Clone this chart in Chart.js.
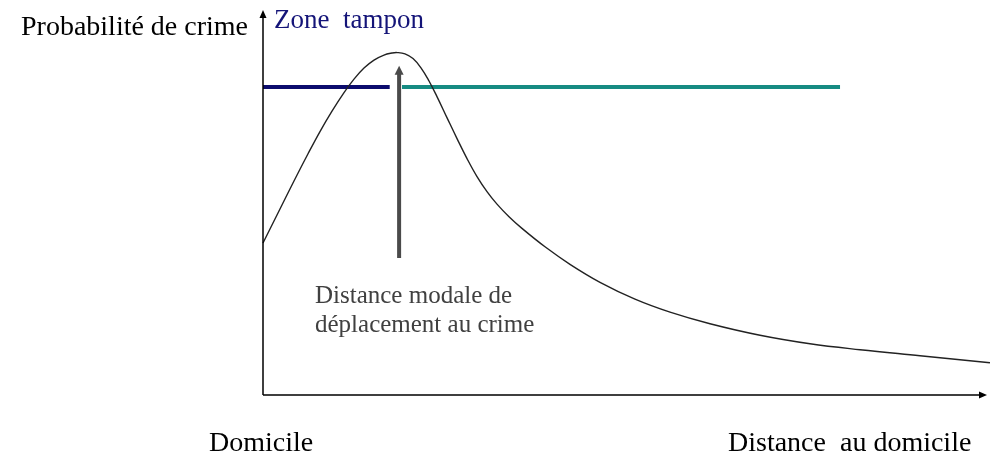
<!DOCTYPE html>
<html>
<head>
<meta charset="utf-8">
<script src="https://cdn.jsdelivr.net/npm/chart.js@4/dist/chart.umd.min.js"></script>
<style>
  html, body { margin: 0; padding: 0; background: #fff; }
  #wrap { width: 990px; height: 454px; }
</style>
</head>
<body>
<div id="wrap"><canvas id="c"></canvas></div>
<script>
// curve: probability of crime vs distance from home (x 0..100, y 0..100)
const distance = [0, 2.07, 4.14, 6.22, 7.87, 9.53, 11.19, 12.57, 13.95, 15.33, 16.71, 17.82, 18.51,
  19.61, 20.72, 21.82, 22.93, 24.03, 25.41, 26.80, 28.18, 29.56, 30.94, 32.32, 33.98, 35.77,
  38.95, 42.40, 46.55, 51.38, 56.22, 61.74, 68.65, 75.55, 82.46, 90.75, 100.41];
const probability = [39.48, 47.27, 55.06, 62.66, 68.43, 73.73, 78.56, 82.06, 84.92, 87.00, 88.30, 88.82, 88.94,
  88.62, 87.38, 84.99, 81.56, 77.51, 72.05, 66.60, 61.40, 56.73, 52.83, 49.58, 46.31, 43.27,
  38.49, 33.95, 29.27, 24.91, 21.53, 18.52, 15.53, 13.32, 11.77, 10.21, 8.39];

// buffer zone (navy) and the rest (teal)
const bufferX = [0, 17.5];
const outsideX = [19.2, 79.7];
const levelY = 80.0;

// modal distance arrow
const modalX = 18.8;
const modalY = [35.6, 85.5];

const xRange = [0, 100];
const yRange = [0, 100];

const serif = '"Liberation Serif", "Times New Roman", serif';

const decor = {
  id: 'decor',
  afterDatasetsDraw(chart) {
    const ctx = chart.ctx;
    const xs = chart.scales.x, ys = chart.scales.y;
    const x0 = xs.getPixelForValue(xRange[0]), x1 = xs.getPixelForValue(xRange[1]);
    const y0 = ys.getPixelForValue(yRange[0]), y1 = ys.getPixelForValue(yRange[1]);
    ctx.save();
    // axes with arrow heads
    ctx.strokeStyle = '#000';
    ctx.fillStyle = '#000';
    ctx.lineWidth = 1.5;
    ctx.beginPath();
    ctx.moveTo(x0, y0); ctx.lineTo(x1 - 4, y0);
    ctx.moveTo(x0, y0); ctx.lineTo(x0, y1 + 4);
    ctx.stroke();
    ctx.beginPath();
    ctx.moveTo(x1, y0); ctx.lineTo(x1 - 8, y0 - 3.5); ctx.lineTo(x1 - 8, y0 + 3.5); ctx.closePath();
    ctx.moveTo(x0, y1); ctx.lineTo(x0 - 3.5, y1 + 8); ctx.lineTo(x0 + 3.5, y1 + 8); ctx.closePath();
    ctx.fill();
    // head of the modal distance arrow
    const ax = xs.getPixelForValue(modalX), ay = ys.getPixelForValue(modalY[1]);
    ctx.fillStyle = '#4a4a4a';
    ctx.beginPath();
    ctx.moveTo(ax, ay); ctx.lineTo(ax - 4.5, ay + 9); ctx.lineTo(ax + 4.5, ay + 9); ctx.closePath();
    ctx.fill();

    // labels
    ctx.textBaseline = 'alphabetic';
    ctx.textAlign = 'left';
    ctx.fillStyle = '#000';
    ctx.font = '28px ' + serif;
    ctx.fillText('Probabilité de crime', 21, 35);
    ctx.fillText('Domicile', 209, 451);
    ctx.fillText('Distance  au domicile', 728, 451);
    ctx.fillStyle = '#141478';
    ctx.font = '27px ' + serif;
    ctx.fillText('Zone  tampon', 274, 28);
    ctx.fillStyle = '#404040';
    ctx.font = '25px ' + serif;
    ctx.fillText('Distance modale de', 315, 303);
    ctx.fillText('déplacement au crime', 315, 332);
    ctx.restore();
  }
};

new Chart(document.getElementById('c'), {
  type: 'scatter',
  data: {
    datasets: [
      {
        data: distance.map((d, i) => ({ x: d, y: probability[i] })),
        showLine: true,
        borderColor: '#222',
        borderWidth: 1.4,
        pointRadius: 0,
        tension: 0.4,
        clip: false
      },
      {
        data: bufferX.map(d => ({ x: d, y: levelY })),
        showLine: true,
        borderColor: '#0c0c6e',
        borderWidth: 4,
        pointRadius: 0
      },
      {
        data: outsideX.map(d => ({ x: d, y: levelY })),
        showLine: true,
        borderColor: '#168b82',
        borderWidth: 4,
        pointRadius: 0
      },
      {
        data: [{ x: modalX, y: modalY[0] }, { x: modalX, y: modalY[1] - 2 }],
        showLine: true,
        borderColor: '#4a4a4a',
        borderWidth: 4,
        pointRadius: 0
      }
    ]
  },
  options: {
    responsive: true,
    maintainAspectRatio: false,
    animation: false,
    layout: { padding: { left: 263, right: 3, top: 10, bottom: 59 } },
    plugins: { legend: { display: false }, tooltip: { enabled: false } },
    scales: {
      x: { type: 'linear', min: xRange[0], max: xRange[1], display: false },
      y: { type: 'linear', min: yRange[0], max: yRange[1], display: false }
    }
  },
  plugins: [decor]
});
</script>
</body>
</html>
